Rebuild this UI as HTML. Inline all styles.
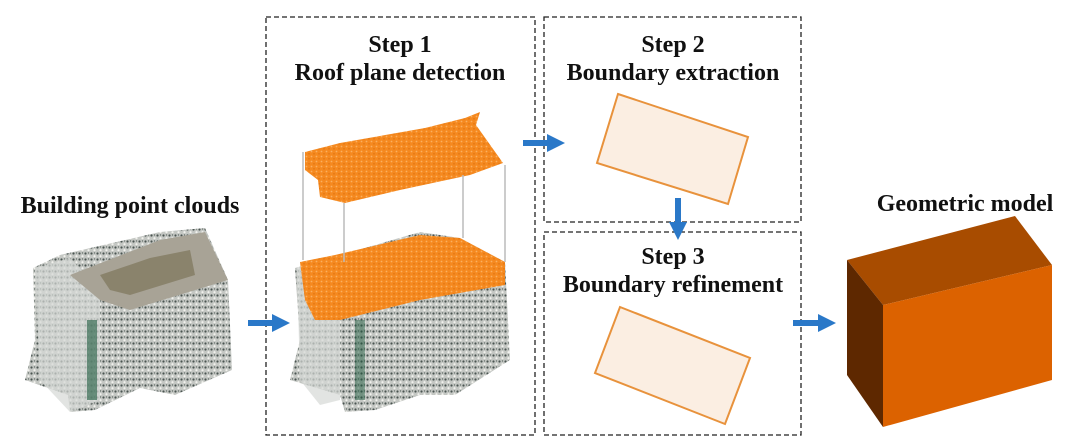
<!DOCTYPE html>
<html><head><meta charset="utf-8"><style>
body{margin:0;background:#fff;}
svg{display:block;}
text{font-family:"Liberation Serif",serif;font-weight:bold;fill:#111;}
</style></head><body>
<svg width="1080" height="447" viewBox="0 0 1080 447" xmlns="http://www.w3.org/2000/svg">
<defs>
<pattern id="pc" width="6" height="6" patternUnits="userSpaceOnUse">
<rect width="6" height="6" fill="#c4c7c3"/>
<circle cx="1.5" cy="1.5" r="1.1" fill="#4a5451"/>
<circle cx="4.5" cy="4.2" r="1.1" fill="#f2f2ee"/>
<circle cx="4.5" cy="1" r="0.7" fill="#67726d"/>
</pattern>
<pattern id="org" width="5" height="5" patternUnits="userSpaceOnUse">
<rect width="5" height="5" fill="#f5891f"/>
<circle cx="1.5" cy="1.5" r="0.9" fill="#fbb060"/>
<circle cx="4" cy="3.8" r="0.8" fill="#e07510"/>
</pattern>
<marker id="ah" markerWidth="3" markerHeight="3" refX="1.5" refY="1.5" orient="auto" markerUnits="strokeWidth">
<path d="M0,0 L3,1.5 L0,3z" fill="#2a78c8"/></marker>
</defs>
<g fill="none" stroke="#222" stroke-width="1.3" stroke-dasharray="5,3">
<rect x="266" y="17" width="269" height="418"/>
<rect x="544" y="17" width="257" height="205"/>
<rect x="544" y="232" width="257" height="203"/>
</g>
<text x="130" y="213" font-size="24" text-anchor="middle">Building point clouds</text>
<text x="400" y="52" font-size="24" text-anchor="middle">Step 1</text>
<text x="400" y="80" font-size="24" text-anchor="middle">Roof plane detection</text>
<text x="673" y="52" font-size="24" text-anchor="middle">Step 2</text>
<text x="673" y="80" font-size="24" text-anchor="middle">Boundary extraction</text>
<text x="673" y="264" font-size="24" text-anchor="middle">Step 3</text>
<text x="673" y="292" font-size="24" text-anchor="middle">Boundary refinement</text>
<text x="965" y="211" font-size="24" text-anchor="middle">Geometric model</text>
<g>
<polygon points="33,268 60,255 160,232 205,228 228,280 232,370 175,395 140,388 95,410 70,412 68,395 25,380 35,340" fill="url(#pc)"/>
<polygon points="35,268 70,258 100,290 100,400 70,412 40,380" fill="#d6d8d6" opacity="0.7"/>
<polygon points="70,275 160,240 205,232 228,280 130,310 100,300" fill="#a8a396"/>
<polygon points="100,275 150,258 190,250 195,275 130,295 110,290" fill="#8a836c"/>
<rect x="87" y="320" width="10" height="80" fill="#1e5a3e" opacity="0.6"/>
</g>
<g>
<polygon points="295,268 330,258 420,232 460,238 505,262 510,360 455,395 420,395 375,410 345,412 340,395 290,380 300,340" fill="url(#pc)"/>
<polygon points="297,268 330,258 340,285 340,400 320,405 300,380" fill="#d6d8d6" opacity="0.7"/>
<polygon points="300,262 335,255 420,235 460,238 505,262 505,285 420,300 340,320 315,320 305,300" fill="url(#org)"/>
<rect x="355" y="320" width="10" height="80" fill="#1e5a3e" opacity="0.5"/>
</g>
<polygon points="305,152 340,143 425,128 465,118 480,112 476,125 503,163 470,175 400,190 345,203 320,197 318,180 305,170" fill="url(#org)"/>
<g stroke="#bbb" stroke-width="1.5">
<line x1="303" y1="152" x2="303" y2="260"/>
<line x1="344" y1="203" x2="344" y2="262"/>
<line x1="463" y1="175" x2="463" y2="238"/>
<line x1="505" y1="165" x2="505" y2="262"/>
</g>
<polygon points="618,94 748,137 728,204 597,163" fill="#fbeee2" stroke="#e8923c" stroke-width="2"/>
<polygon points="620,307 750,358 725,424 595,373" fill="#fbeee2" stroke="#e8923c" stroke-width="2"/>
<polygon points="847,260 1015,216 1052,265 883,305" fill="#a84c00"/>
<polygon points="847,260 883,305 883,427 847,375" fill="#5e2800"/>
<polygon points="883,305 1052,265 1052,380 883,427" fill="#dc6200"/>
<g stroke="#2a78c8" stroke-width="6" fill="none">
<line x1="248" y1="323" x2="281" y2="323" marker-end="url(#ah)"/>
<line x1="523" y1="143" x2="556" y2="143" marker-end="url(#ah)"/>
<line x1="678" y1="198" x2="678" y2="231" marker-end="url(#ah)"/>
<line x1="793" y1="323" x2="827" y2="323" marker-end="url(#ah)"/>
</g>
</svg>
</body></html>
